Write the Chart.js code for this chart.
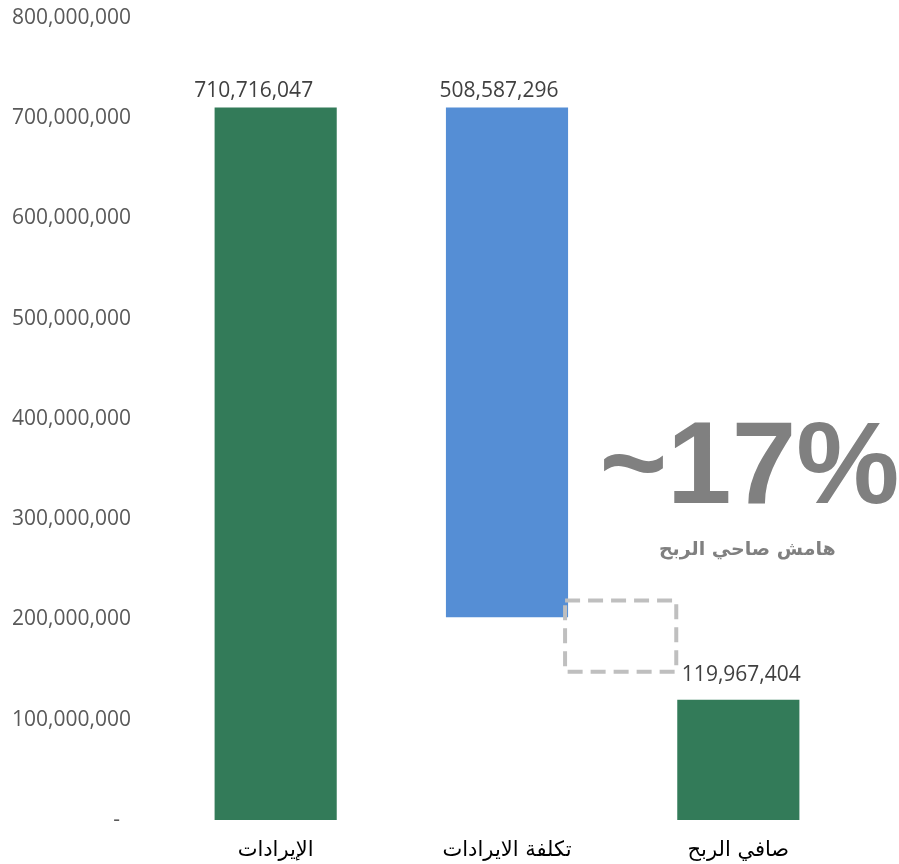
<!DOCTYPE html>
<html>
<head>
<meta charset="utf-8">
<script src="https://cdn.jsdelivr.net/npm/chart.js@4.4.1/dist/chart.umd.min.js"></script>
<style>
  html, body { margin: 0; padding: 0; background: #fff; }
  #wrap { width: 899px; height: 864px; position: relative; }
</style>
</head>
<body>
<div id="wrap"><canvas id="profitChart"></canvas></div>
<script>
// categories and values
const categories = ["الإيرادات", "تكلفة الايرادات", "صافي الربح"];
const amounts = [710716047, 508587296, 119967404];
const barColors = ["#337B59", "#558ED5", "#337B59"];
const yTicks = [0, 100000000, 200000000, 300000000, 400000000, 500000000, 600000000, 700000000, 800000000];
const marginText = "هامش صاحي الربح";

// dashed box between cost and net profit (value range)
const boxRange = [148000000, 219000000];

const revenue = amounts[0];
const cost = amounts[1];
const net = amounts[2];
const barData = [[0, revenue], [revenue - cost, revenue], [0, net]];
const marginPct = Math.round(net / revenue * 100);

// small manual label shifts, like the excel data labels
const labelShift = [[-22, -11], [-8, -11], [3, -19]];

const fmt = v => v.toLocaleString("en-US");

const overlay = {
	id: "overlay",
	afterDatasetsDraw(chart) {
		const ctx = chart.ctx;
		const xs = chart.scales.x, ys = chart.scales.y;
		const bars = chart.getDatasetMeta(0).data;

		// value labels
		ctx.save();
		ctx.font = "21px 'Open Sans'";
		ctx.fillStyle = "#404040";
		ctx.textAlign = "center";
		ctx.textBaseline = "alphabetic";
		bars.forEach((b, i) => {
			ctx.fillText(fmt(amounts[i]), b.x + labelShift[i][0], b.y + labelShift[i][1]);
		});
		ctx.restore();

		// dashed box
		const b2 = bars[1], b3 = bars[2];
		const left = b2.x + b2.width / 2 - 3;
		const right = b3.x - b3.width / 2 - 1;
		const top = ys.getPixelForValue(boxRange[1]);
		const bottom = ys.getPixelForValue(boxRange[0]);
		ctx.save();
		ctx.strokeStyle = "#BFBFBF";
		ctx.lineWidth = 4;
		ctx.setLineDash([15, 8]);
		ctx.strokeRect(left, top, right - left, bottom - top);
		ctx.restore();

		// big margin text
		const cx = xs.getPixelForValue(2) + 11;
		ctx.save();
		ctx.fillStyle = "#808080";
		ctx.textAlign = "center";
		ctx.font = "bold 116px 'Liberation Sans'";
		ctx.fillText("~" + marginPct + "%", cx, ys.getPixelForValue(316000000));
		ctx.font = "bold 19px 'DejaVu Sans'";
		ctx.fillText(marginText, cx - 2, ys.getPixelForValue(264000000));
		ctx.restore();
	}
};

new Chart(document.getElementById("profitChart").getContext("2d"), {
	type: "bar",
	data: {
		labels: categories,
		datasets: [{
			data: barData,
			backgroundColor: barColors,
			borderWidth: 0,
			categoryPercentage: 1,
			barPercentage: 0.528
		}]
	},
	options: {
		responsive: true,
		maintainAspectRatio: false,
		animation: false,
		layout: { padding: { top: 18, right: 45, left: 0, bottom: 0 } },
		plugins: {
			legend: { display: false },
			tooltip: { enabled: false }
		},
		scales: {
			x: {
				grid: { display: false, drawTicks: false },
				border: { display: false },
				ticks: {
					padding: 18,
					color: "#000",
					font: { family: "'DejaVu Sans'", size: 21 }
				},
				afterFit: s => { s.height = 44; s.paddingLeft = 0; s.paddingRight = 0; }
			},
			y: {
				min: 0,
				max: 800000000,
				grid: { display: false, drawTicks: false },
				border: { display: false },
				afterBuildTicks: s => { s.ticks = yTicks.map(v => ({ value: v })); },
				ticks: {
					padding: 29,
					color: "#595959",
					font: { family: "'Open Sans'", size: 21 },
					callback: v => v === 0 ? "-  " : fmt(v)
				},
				afterFit: s => { s.width = 160; s.paddingTop = 0; s.paddingBottom = 0; }
			}
		}
	},
	plugins: [overlay]
});
</script>
</body>
</html>
